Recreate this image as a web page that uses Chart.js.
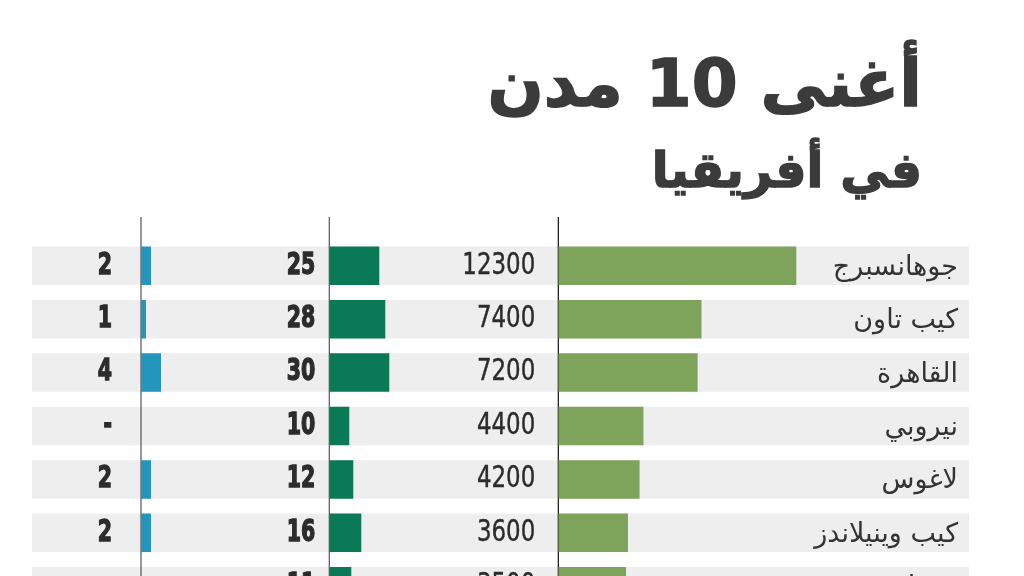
<!DOCTYPE html>
<html lang="ar">
<head>
<meta charset="utf-8">
<script src="https://cdn.jsdelivr.net/npm/chart.js@4.4.1/dist/chart.umd.min.js"></script>
<style>
    html, body { margin: 0; padding: 0; background: #ffffff; overflow: hidden; }
    #wrap { position: relative; width: 1024px; height: 576px; overflow: hidden; }
    #chart { position: absolute; left: 0; top: 0; }
    .title {
        position: absolute;
        right: 102px;
        margin: 0;
        direction: rtl;
        font-family: 'DejaVu Sans', sans-serif;
        font-weight: bold;
        color: #3b3b3b;
        white-space: nowrap;
        letter-spacing: -2px;
        -webkit-text-stroke: 1.5px #3b3b3b;
        line-height: 1.2;
    }
    #t1 { top: 44px; font-size: 66px; }
    #t2 { top: 142px; font-size: 49px; }
</style>
</head>
<body>
<div id="wrap">
    <canvas id="chart" width="1024" height="620"></canvas>
    <div class="title" id="t1">أغنى 10 مدن</div>
    <div class="title" id="t2">في أفريقيا</div>
</div>
<script>
// cities (top to bottom), last row is cut by the picture edge
const cities = ['جوهانسبرج', 'كيب تاون', 'القاهرة', 'نيروبي', 'لاغوس', 'كيب وينيلاندز', 'ديربان'];
const millionaires = [12300, 7400, 7200, 4400, 4200, 3600, 3500];
const centiMillionaires = [25, 28, 30, 10, 12, 16, 11];
const billionaires = [2, 1, 4, 0, 2, 2, 0];

const BLUE = '#2596bb';
const DARK_GREEN = '#0a7a56';
const LIGHT_GREEN = '#7ea35a';
const BAND = '#eeeeee';
const TEXT = '#2c2c2c';
const NUM_FONT = "'DejaVu Sans Condensed', 'DejaVu Sans', sans-serif";

// right aligned text squeezed sideways, to get the narrow look of the original numbers
function narrowText(ctx, text, x, y, sx, stroke) {
    ctx.save();
    ctx.translate(x, y);
    ctx.scale(sx, 1);
    ctx.fillText(text, 0, 0);
    if (stroke) {
        ctx.strokeStyle = ctx.fillStyle;
        ctx.lineWidth = stroke;
        ctx.strokeText(text, 0, 0);
    }
    ctx.restore();
}

// grey row bands, axis lines and all the labels
const tablePlugin = {
    id: 'table',
    beforeDatasetsDraw(chart) {
        const ctx = chart.ctx;
        const y = chart.scales.y;
        const band = y.getPixelForValue(1) - y.getPixelForValue(0);
        const h = band * 0.72;
        ctx.save();
        ctx.fillStyle = BAND;
        cities.forEach((c, i) => {
            const yc = y.getPixelForValue(i);
            ctx.fillRect(32, yc - h / 2, 937, h);
        });
        // vertical base lines
        const lines = [
            [chart.scales.xB.getPixelForValue(0), '#555555'],
            [chart.scales.xD.getPixelForValue(0), '#555555'],
            [chart.scales.xL.getPixelForValue(0), '#111111'],
        ];
        ctx.lineWidth = 1.2;
        lines.forEach(([x, color]) => {
            ctx.strokeStyle = color;
            ctx.beginPath();
            ctx.moveTo(x, 217);
            ctx.lineTo(x, chart.height);
            ctx.stroke();
        });
        ctx.restore();
    },
    afterDatasetsDraw(chart) {
        const ctx = chart.ctx;
        const y = chart.scales.y;
        ctx.save();
        ctx.fillStyle = TEXT;
        ctx.textAlign = 'right';
        ctx.textBaseline = 'middle';
        cities.forEach((c, i) => {
            const yc = y.getPixelForValue(i);
            ctx.font = 'bold 30px ' + NUM_FONT;
            narrowText(ctx, billionaires[i] === 0 ? '-' : String(billionaires[i]), chart.scales.xB.getPixelForValue(0) - 29, yc, 0.76, 1.3);
            narrowText(ctx, String(centiMillionaires[i]), chart.scales.xD.getPixelForValue(0) - 14, yc, 0.76, 1.3);
            ctx.font = '30px ' + NUM_FONT;
            narrowText(ctx, String(millionaires[i]), chart.scales.xL.getPixelForValue(0) - 23, yc, 0.85, 0.4);
            ctx.font = "27px 'DejaVu Sans', sans-serif";
            ctx.direction = 'rtl';
            ctx.fillStyle = '#333333';
            ctx.fillText(c, 958, yc + 2);
            ctx.direction = 'ltr';
            ctx.fillStyle = TEXT;
        });
        ctx.restore();
    },
};

const barStyle = { grouped: false, categoryPercentage: 1, barPercentage: 0.72, borderWidth: 0 };

new Chart(document.getElementById('chart'), {
    type: 'bar',
    data: {
        labels: cities,
        datasets: [
            { ...barStyle, label: 'مليارديرات', data: billionaires, backgroundColor: BLUE, xAxisID: 'xB' },
            { ...barStyle, label: 'أصحاب مئات الملايين', data: centiMillionaires, backgroundColor: DARK_GREEN, xAxisID: 'xD' },
            { ...barStyle, label: 'مليونيرات', data: millionaires, backgroundColor: LIGHT_GREEN, xAxisID: 'xL' },
        ],
    },
    options: {
        indexAxis: 'y',
        responsive: false,
        animation: false,
        layout: { padding: { left: 141, right: 55, top: 239, bottom: 7 } },
        plugins: { legend: { display: false }, tooltip: { enabled: false } },
        scales: {
            // three side by side columns, each with its own value scale
            xB: { type: 'linear', position: 'bottom', stack: 'cols', stackWeight: 188.3, min: 0, max: 37.66, display: false },
            xD: { type: 'linear', position: 'bottom', stack: 'cols', stackWeight: 229, min: 0, max: 114.5, display: false },
            xL: { type: 'linear', position: 'bottom', stack: 'cols', stackWeight: 410.7, min: 0, max: 21225, display: false },
            y: { type: 'category', display: false, offset: true },
        },
    },
    plugins: [tablePlugin],
});
</script>
</body>
</html>
